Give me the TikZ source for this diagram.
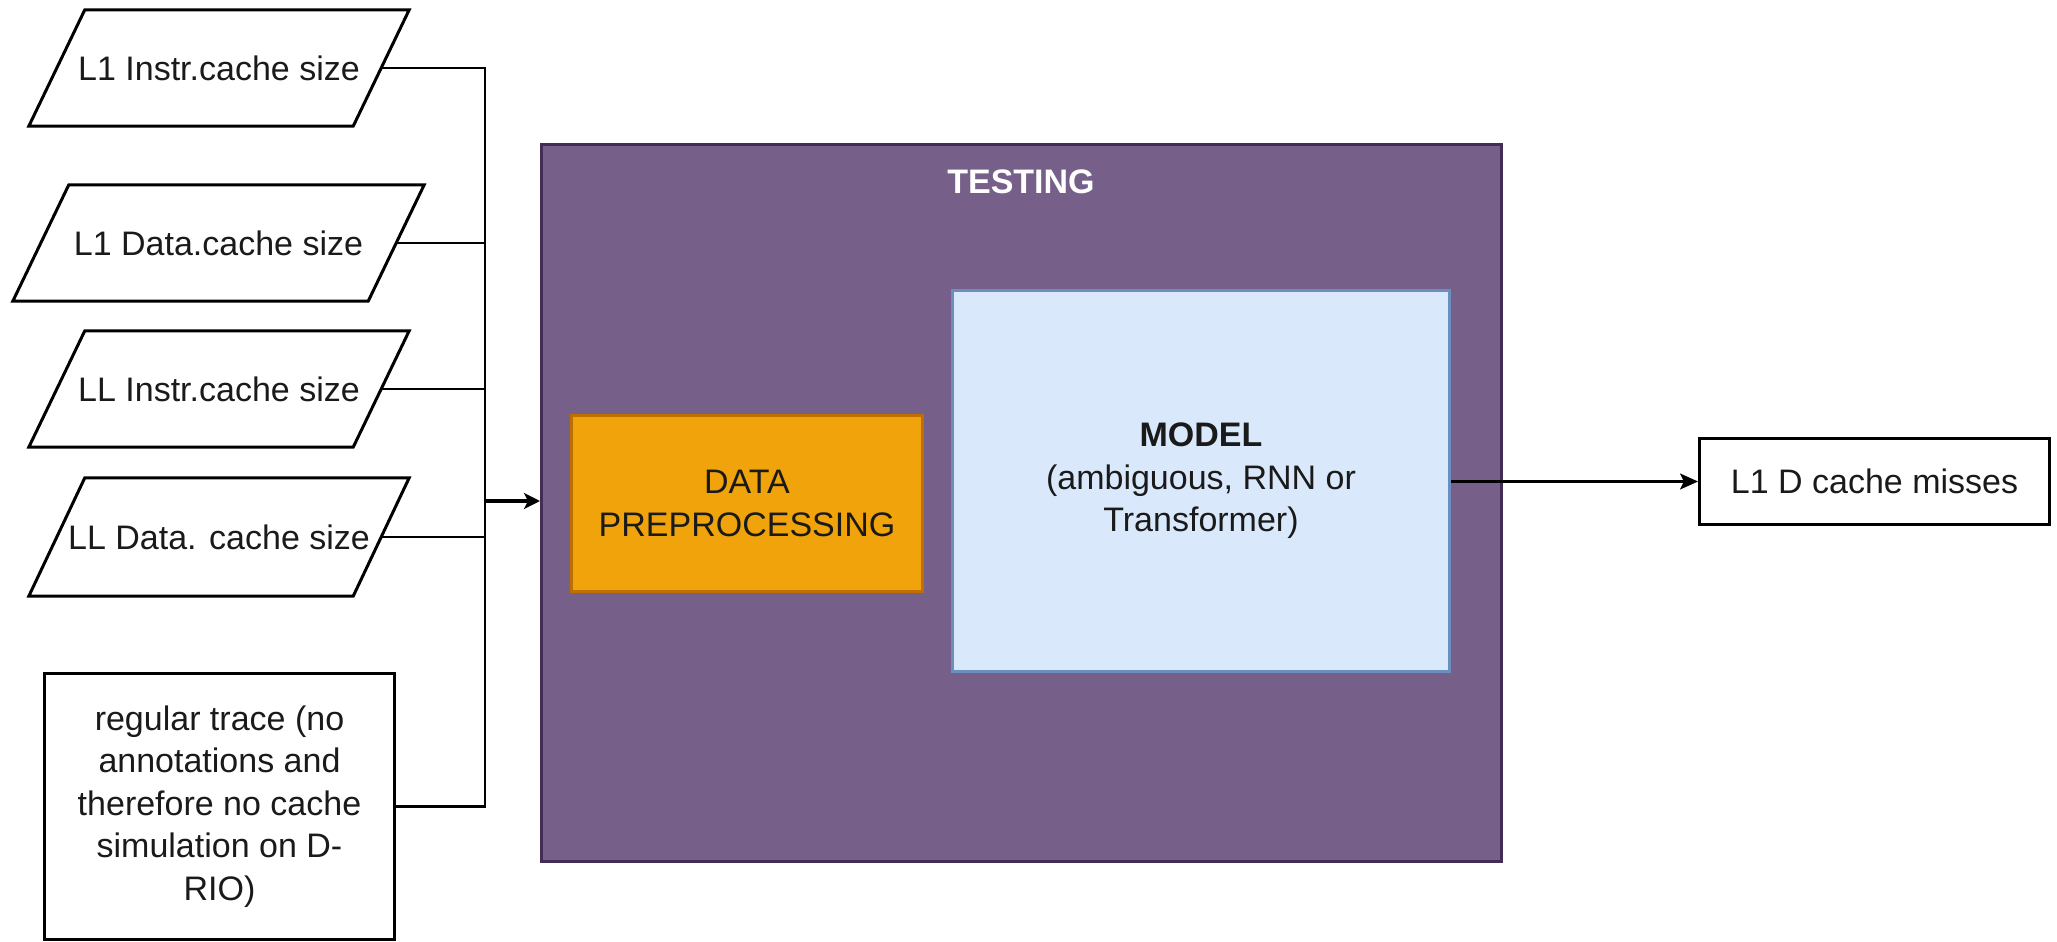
\documentclass[tikz,border=0pt]{standalone}
\usepackage{fontspec}
\setmainfont{Liberation Sans}
\usetikzlibrary{arrows.meta}

\definecolor{groupfill}{HTML}{76608A}
\definecolor{groupline}{HTML}{432D57}
\definecolor{prepfill}{HTML}{F0A30A}
\definecolor{prepline}{HTML}{BD7000}
\definecolor{modelfill}{HTML}{DAE8FC}
\definecolor{modelline}{HTML}{6C8EBF}
\definecolor{ink}{HTML}{1A1A1A}

\tikzset{
  txt/.style={font=\fontsize{34}{42.5}\selectfont, text=ink},
  para/.style={txt, rectangle, inner sep=0pt, minimum height=116pt},
  paraline/.style={draw=black, line width=3pt, line join=miter},
  plainbox/.style={txt, rectangle, draw=black, line width=3pt, inner sep=0pt, align=center},
  group/.style={rectangle, draw=groupline, fill=groupfill, line width=3pt, inner sep=0pt},
  prepbox/.style={txt, rectangle, draw=prepline, fill=prepfill, line width=3pt, inner sep=0pt, align=center},
  modelbox/.style={txt, rectangle, draw=modelline, fill=modelfill, line width=3pt, inner sep=0pt, align=center},
  wire/.style={draw=black, line width=2.5pt},
  feed/.style={draw=black, line width=4.5pt, -{Stealth[length=16pt,width=16pt,inset=4pt]}},
  outarrow/.style={draw=black, line width=2.5pt, -{Stealth[length=18pt,width=16pt,inset=4pt]}},
}

% slanted outline around a rectangular node, plus a coordinate on its right side
\newcommand\slantframe[2]{%
  \draw[paraline] (#1.south west) -- ([xshift=#2]#1.north west) -- (#1.north east)
    -- ([xshift=-#2]#1.south east) -- cycle;
  \coordinate (#1-r) at ([xshift=-#2/2]#1.east);
}

\begin{document}
\begin{tikzpicture}[x=1pt,y=-1pt]
\useasboundingbox (0,0) rectangle (2057,942);

% input parameters
\node[para, minimum width=380pt] (l1i) at (219,68)  {\makebox[0pt]{L1 Instr.cache size}};
\slantframe{l1i}{56pt}
\node[para, minimum width=411pt] (l1d) at (218.5,243) {\makebox[0pt]{L1 Data.cache size}};
\slantframe{l1d}{56pt}
\node[para, minimum width=380pt] (lli) at (219,389) {\makebox[0pt]{LL Instr.cache size}};
\slantframe{lli}{56pt}
\node[para, minimum width=380pt, minimum height=118pt] (lld) at (219,537) {\makebox[0pt]{LL Data. cache size}};
\slantframe{lld}{56pt}

% trace input
\node[plainbox, minimum width=350pt, minimum height=266pt] (trace) at (219.5,806.5)
  {regular trace (no\\annotations and\\therefore no cache\\simulation on D-\\RIO)};

% testing stage
\node[group, minimum width=960pt, minimum height=717pt] (testing) at (1021.5,503) {};
\node[txt, text=white, font=\fontsize{34}{42.5}\selectfont\bfseries] (title) at (1021,182) {TESTING};
\node[prepbox, minimum width=351pt, minimum height=176pt] (prep) at (747,503.5)
  {DATA\\PREPROCESSING};
\node[modelbox, minimum width=497pt, minimum height=381pt] (model) at (1201,481)
  {\textbf{MODEL}\\(ambiguous, RNN or\\Transformer)};

% result
\node[plainbox, minimum width=350pt, minimum height=86pt] (out) at (1874.5,481.5)
  {L1 D cache misses};

% bus collecting the inputs
\coordinate (bus) at (485,501);
\draw[wire] (l1i-r) -| (bus);
\draw[wire] (l1d-r) -| (bus);
\draw[wire] (lli-r) -| (bus);
\draw[wire] (lld-r) -| (bus);
\draw[wire] (trace.east) -| (bus);
\draw[feed] (bus) -- (bus -| testing.west);

\draw[outarrow] (model.east |- out.west) -- (out.west);
\end{tikzpicture}
\end{document}
